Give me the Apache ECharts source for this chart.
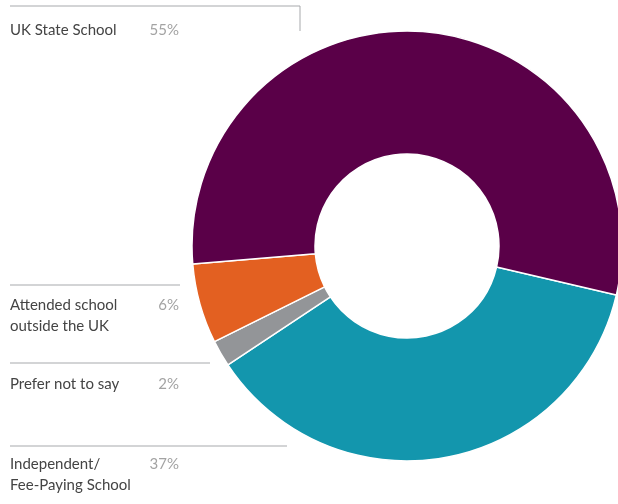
<!DOCTYPE html>
<html>
<head>
<meta charset="utf-8">
<script src="https://cdn.jsdelivr.net/npm/echarts@6/dist/echarts.min.js"></script>
<style>html,body{margin:0;padding:0;background:#fff}#c{width:618px;height:504px}</style>
</head>
<body>
<div id="c"></div>
<script>
// Data (clockwise order starting at the teal slice)
const categories = ['Independent/\nFee-Paying School', 'Prefer not to say', 'Attended school\noutside the UK', 'UK State School'];
const values = [37, 2, 6, 55];
const colors = ['#1396ad', '#939598', '#e36021', '#5a0048'];

// Label layout (line y, line end x, first text line centre y) per category
const layout = [
  { lineY: 446, lineX2: 287, textY: 464 },
  { lineY: 363, lineX2: 210, textY: 384 },
  { lineY: 285, lineX2: 180, textY: 305 },
  { lineY: 6,   lineX2: 300, textY: 30, vertical: true }
];

const chart = echarts.init(document.getElementById('c'), null, { renderer: 'canvas' });
const graphics = [];
categories.forEach((name, i) => {
  const L = layout[i];
  graphics.push({ type: 'line', shape: { x1: 10, y1: L.lineY, x2: L.lineX2, y2: L.lineY }, style: { stroke: '#a7a9ac', lineWidth: 1 } });
  if (L.vertical) {
    graphics.push({ type: 'line', shape: { x1: L.lineX2, y1: L.lineY, x2: L.lineX2, y2: L.lineY + 25 }, style: { stroke: '#a7a9ac', lineWidth: 1 } });
  }
  graphics.push({ type: 'text', x: 10, y: L.textY - 11, style: { text: name, fill: '#444', font: '15px Lato', verticalAlign: 'top', lineHeight: 21.5 } });
  graphics.push({ type: 'text', x: 179, y: L.textY - 11, style: { text: values[i] + '%', fill: '#a3a3a3', font: '15px Lato', align: 'right', verticalAlign: 'top', lineHeight: 21.5 } });
});

chart.setOption({
  animation: false,
  graphic: graphics,
  series: [{
    type: 'pie',
    center: [407, 246],
    radius: [92, 215],
    startAngle: -13.2,
    clockwise: true,
    label: { show: false },
    labelLine: { show: false },
    itemStyle: { borderColor: '#fff', borderWidth: 1.5 },
    data: categories.map((n, i) => ({ name: n, value: values[i], itemStyle: { color: colors[i] } }))
  }]
});
</script>
</body>
</html>
